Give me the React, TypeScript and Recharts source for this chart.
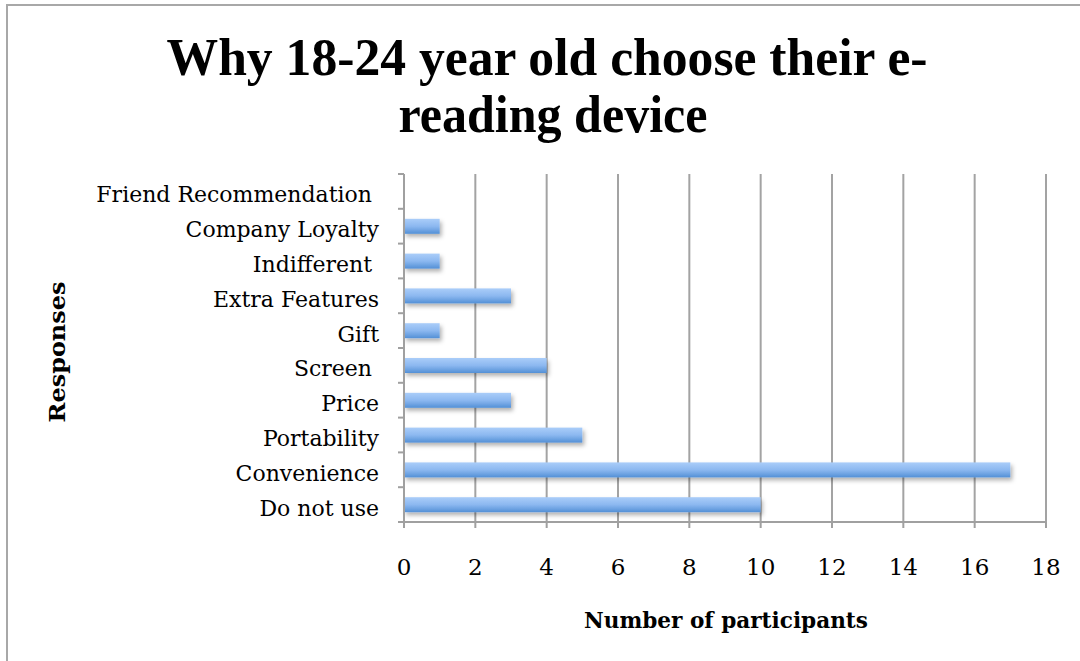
import React from 'react';
import { BarChart, Bar, XAxis, YAxis, CartesianGrid } from 'recharts';

const categories = [
  'Friend Recommendation ',
  'Company Loyalty',
  'Indifferent ',
  'Extra Features',
  'Gift',
  'Screen ',
  'Price',
  'Portability',
  'Convenience',
  'Do not use',
];
const participants = [0, 1, 1, 3, 1, 4, 3, 5, 17, 10];
const xTicks = [0, 2, 4, 6, 8, 10, 12, 14, 16, 18];
const titleLines = ['Why 18-24 year old choose their e-', 'reading device'];
const xTitle = 'Number of participants';
const yTitle = 'Responses';

const data = categories.map((c, i) => ({ name: c, value: participants[i] }));

const LABEL_FONT = '"DejaVu Serif", serif';
const TITLE_FONT = '"Liberation Serif", serif';
const TICK_SIZE = 6;
const TICK_MARGIN = 19;

const CategoryTick = (props: any) => {
  const { x, y, payload, index, visibleTicksCount } = props;
  const off = payload?.offset ?? 0;
  const axisX = x + TICK_MARGIN + TICK_SIZE;
  return (
    <g>
      <text
        x={x}
        y={y + 11}
        textAnchor="end"
        fontFamily={LABEL_FONT}
        fontSize={22}
        fill="#000"
        style={{ whiteSpace: 'pre' }}
      >
        {payload.value}
      </text>
      <line x1={axisX - TICK_SIZE} x2={axisX} y1={y - off} y2={y - off} stroke="#a0a0a0" strokeWidth={2} />
      {index === visibleTicksCount - 1 && (
        <line x1={axisX - TICK_SIZE} x2={axisX} y1={y + off} y2={y + off} stroke="#a0a0a0" strokeWidth={2} />
      )}
    </g>
  );
};

const BarShape = (props: any) => {
  const { x, y, width, height } = props;
  if (!width || width <= 0) return null;
  return <rect x={x} y={y} width={width} height={height} fill="url(#barGrad)" filter="url(#barShadow)" />;
};

export default function App() {
  return (
    <div style={{ position: 'absolute', left: 0, top: 0, width: 1080, height: 661, background: '#fff' }}>
      <BarChart
        width={1080}
        height={661}
        data={data}
        layout="vertical"
        margin={{ top: 174, right: 34, bottom: 79, left: 0 }}
        barSize={15}
      >
        <defs>
          <linearGradient id="barGrad" x1="0" y1="0" x2="0" y2="1">
            <stop offset="0%" stopColor="#aacdf9" />
            <stop offset="50%" stopColor="#8cb8f0" />
            <stop offset="100%" stopColor="#5390d6" />
          </linearGradient>
          <filter id="barShadow" x="-10%" y="-50%" width="130%" height="250%">
            <feDropShadow dx="2" dy="3" stdDeviation="2" floodColor="#000" floodOpacity="0.3" />
          </filter>
        </defs>
        <CartesianGrid horizontal={false} vertical stroke="#a3a3a3" strokeWidth={2} />
        <XAxis
          type="number"
          domain={[0, 18]}
          ticks={xTicks}
          interval={0}
          height={60}
          tickSize={6}
          tickMargin={31}
          axisLine={{ stroke: '#a0a0a0', strokeWidth: 2 }}
          tickLine={{ stroke: '#a0a0a0', strokeWidth: 2 }}
          tick={{ fontFamily: LABEL_FONT, fontSize: 23, fill: '#000' }}
        />
        <YAxis
          type="category"
          dataKey="name"
          width={404}
          interval={0}
          tickSize={TICK_SIZE}
          tickMargin={TICK_MARGIN}
          tickLine={false}
          axisLine={{ stroke: '#a0a0a0', strokeWidth: 2 }}
          tick={<CategoryTick />}
        />
        <Bar dataKey="value" isAnimationActive={false} shape={<BarShape />} />
      </BarChart>
      <svg
        width={1080}
        height={661}
        style={{ position: 'absolute', left: 0, top: 0, pointerEvents: 'none' }}
      >
        <path d="M7,661 L7,5 L1080,5" fill="none" stroke="#a8a8a8" strokeWidth={2} />
        <text x={547} y={75} textAnchor="middle" fontFamily={TITLE_FONT} fontWeight="bold" fontSize={53} textLength={761} lengthAdjust="spacingAndGlyphs" fill="#000">
          {titleLines[0]}
        </text>
        <text x={553} y={132} textAnchor="middle" fontFamily={TITLE_FONT} fontWeight="bold" fontSize={53} textLength={309} lengthAdjust="spacingAndGlyphs" fill="#000">
          {titleLines[1]}
        </text>
        <text x={726} y={628} textAnchor="middle" fontFamily={LABEL_FONT} fontWeight="bold" fontSize={23} textLength={284} lengthAdjust="spacingAndGlyphs" fill="#000">
          {xTitle}
        </text>
        <text
          x={65}
          y={352}
          textAnchor="middle"
          transform="rotate(-90, 65, 352)"
          fontFamily={LABEL_FONT}
          fontWeight="bold"
          fontSize={22}
          textLength={141}
          lengthAdjust="spacingAndGlyphs"
          fill="#000"
        >
          {yTitle}
        </text>
      </svg>
    </div>
  );
}
